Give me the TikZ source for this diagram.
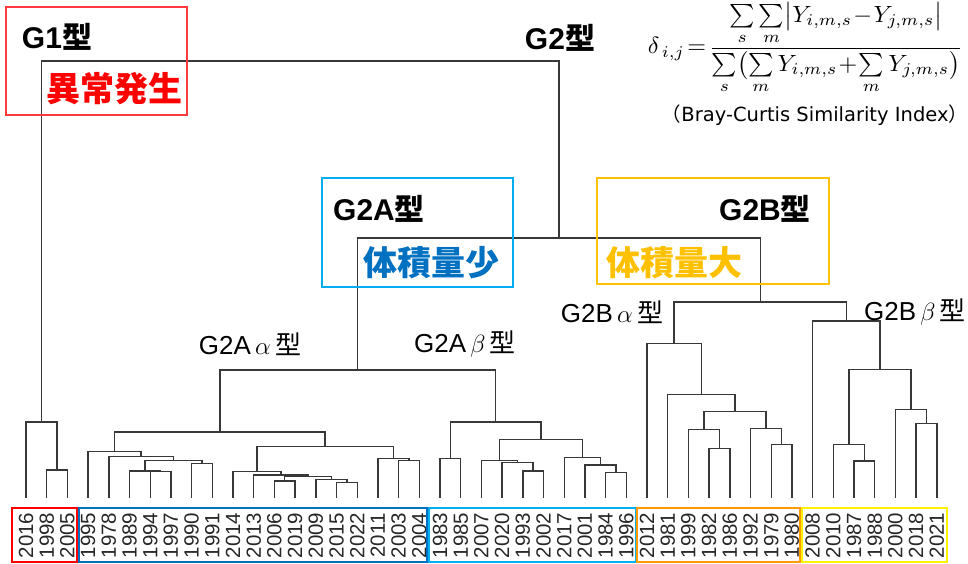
\documentclass[tikz,border=0pt]{standalone}
\usepackage{fontspec}
\usepackage{graphicx}
\setmainfont{Liberation Sans}
\newfontfamily\jp{Noto Sans CJK JP}
\newfontfamily\capfont{DejaVu Sans}
\usetikzlibrary{calc}
\definecolor{dgray}{HTML}{383838}
\definecolor{redbox}{HTML}{FF3B3B}
\definecolor{lbluebox}{HTML}{00AEEF}
\definecolor{ybox}{HTML}{FFC000}
\definecolor{dblue}{HTML}{0070C0}
\definecolor{lblue}{HTML}{00B0F0}
\definecolor{orng}{HTML}{FF9A00}
\definecolor{yel}{HTML}{FFF200}
\definecolor{gold}{HTML}{FFC000}
\tikzset{
  dline/.style={draw=dgray, line width=1.4pt},
  yr/.style={rotate=90, font=\fontsize{20.5}{24}\selectfont, inner sep=0pt, text=black!85},
  biglab/.style={font=\bfseries\fontsize{30}{36}\selectfont, inner sep=0pt},
  kanjilab/.style={font=\jp\bfseries\fontsize{34}{40}\selectfont, inner sep=0pt},
  sublab/.style={font=\fontsize{26}{30}\selectfont, inner sep=0pt},
  topbox/.style={line width=1.5pt},
  yearbox/.style={line width=2pt},
}
\newcommand\dmerge[4]{%
  \path let \p1=($(#2)!0.5!(#3)$) in (\x1,-#4pt) coordinate (#1);
  \draw[dline] (#2) |- (#1) -| (#3);
}
\begin{document}
\begin{tikzpicture}[x=1pt,y=-1pt]
\useasboundingbox (0,0) rectangle (968,563);
% leaves and year labels
\foreach \yr [count=\i from 0] in {2016,1998,2005,1995,1978,1989,1994,1997,1990,1991,2014,2013,2006,2019,2009,2015,2022,2011,2003,2004,1983,1985,2007,2020,1993,2002,2017,2001,1984,1996,2012,1981,1999,1982,1986,1992,1979,1980,2008,2010,1987,1988,2000,2018,2021}{
  \coordinate (y\yr) at ({26+20.7*\i},498);
  \node[yr] (t\yr) at ({26+20.7*\i},535.5) {\yr};
}
% G1
\dmerge{r1}{y1998}{y2005}{470}
\dmerge{r2}{y2016}{r1}{422}
% G2A alpha
\dmerge{a1}{y1994}{y1997}{471.7}
\dmerge{a2}{y1989}{a1}{471}
\dmerge{a3}{y1990}{y1991}{463.3}
\dmerge{a4}{a2}{a3}{460.7}
\dmerge{a5}{y1978}{a4}{456.7}
\dmerge{a6}{y1995}{a5}{451.7}
\dmerge{b1}{y2003}{y2004}{460.7}
\dmerge{b2}{y2011}{b1}{458.3}
\dmerge{b3}{y2006}{y2019}{481}
\dmerge{b4}{y2015}{y2022}{482.3}
\dmerge{b5}{y2009}{b4}{479.3}
\dmerge{b6}{b3}{b5}{476.7}
\dmerge{b7}{y2013}{b6}{475}
\dmerge{b8}{y2014}{b7}{471.7}
\dmerge{b9}{b8}{b2}{446.7}
\dmerge{ga}{a6}{b9}{432}
% G2A beta
\dmerge{c1}{y1983}{y1985}{458.7}
\dmerge{c2}{y1993}{y2002}{471}
\dmerge{c3}{y2020}{c2}{462.3}
\dmerge{c4}{y2007}{c3}{460.3}
\dmerge{c5}{y1984}{y1996}{472.3}
\dmerge{c6}{y2001}{c5}{465}
\dmerge{c7}{y2017}{c6}{457.3}
\dmerge{c8}{c4}{c7}{439.7}
\dmerge{gb}{c1}{c8}{422}
\dmerge{g2a}{ga}{gb}{370}
% G2B alpha
\dmerge{d1}{y1982}{y1986}{448.3}
\dmerge{d2}{y1999}{d1}{429.3}
\dmerge{d3}{y1979}{y1980}{444.3}
\dmerge{d4}{y1992}{d3}{428.7}
\dmerge{d5}{d2}{d4}{411.7}
\dmerge{d6}{y1981}{d5}{394.3}
\dmerge{d7}{y2012}{d6}{343.3}
% G2B beta
\dmerge{e1}{y1987}{y1988}{461}
\dmerge{e2}{y2010}{e1}{444.3}
\dmerge{e3}{y2018}{y2021}{423.3}
\dmerge{e4}{y2000}{e3}{409.3}
\dmerge{e5}{e2}{e4}{369.3}
\dmerge{e6}{y2008}{e5}{321}
\dmerge{g2b}{d7}{e6}{302}
\dmerge{g2}{g2a}{g2b}{238}
\dmerge{root}{r2}{g2}{61}
% year boxes
\draw[yearbox, red] (12.3,508) rectangle (76.5,562);
\draw[yearbox, dblue] (79,508) rectangle (426.5,562);
\draw[yearbox, lblue] (429,508) rectangle (635.5,562);
\draw[yearbox, orng] (636.5,508) rectangle (800,562);
\draw[yearbox, yel] (801.5,508) rectangle (946.5,562);
% top boxes
\draw[topbox, redbox] (6,7) rectangle (187,115);
\draw[topbox, lbluebox] (322,178) rectangle (513,287);
\draw[topbox, ybox] (597,178) rectangle (829,284);
% labels
\node[biglab] (lg1) at (57,37) {G1{\jp 型}};
\node[kanjilab, text=red] (lg1k) at (114,89) {異常発生};
\node[biglab] (lg2) at (560,38) {G2{\jp 型}};
\node[biglab] (lg2a) at (379,209) {G2A{\jp 型}};
\node[biglab] (lg2b) at (765,209) {G2B{\jp 型}};
\node[kanjilab, text=dblue] (lg2ak) at (431,263) {体積量少};
\node[kanjilab, text=gold] (lg2bk) at (674,263) {体積量大};
\node[sublab] (laa) at (250,344) {G2A\,$\alpha$\,{\jp 型}};
\node[sublab] (lab) at (465,344) {G2A\,$\beta$\,{\jp 型}};
\node[sublab] (lba) at (612,312) {G2B\,$\alpha$\,{\jp 型}};
\node[sublab] (lbb) at (915,312) {G2B\,$\beta$\,{\jp 型}};
% formula
\node[inner sep=0pt] (formula) at (805.5,48) {\resizebox*{315pt}{91pt}{$\displaystyle \delta_{\,i,j}\!=\!\frac{\textstyle\sum\limits_{s}\sum\limits_{m}\bigl|Y_{i,m,s}\!-\!Y_{j,m,s}\bigr|}{\textstyle\sum\limits_{s}\bigl(\sum\limits_{m}Y_{i,m,s}\!+\!\sum\limits_{m}Y_{j,m,s}\bigr)}$}};
\node[inner sep=0pt, font=\capfont\fontsize{19.5}{23}\selectfont] (cap) at (815,115) {{\jp （}Bray-Curtis Similarity Index{\jp ）}};
\end{tikzpicture}
\end{document}
